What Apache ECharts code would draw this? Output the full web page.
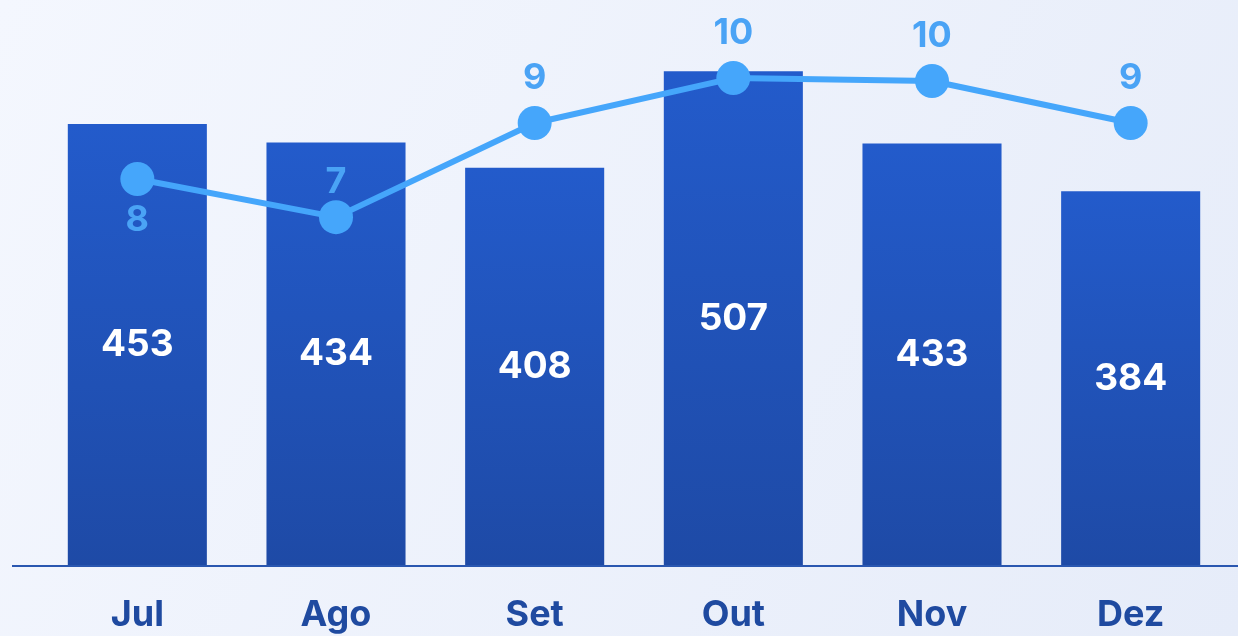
<!DOCTYPE html>
<html>
<head>
<meta charset="utf-8">
<script src="https://cdn.jsdelivr.net/npm/echarts@6/dist/echarts.min.js"></script>
<style>
  html, body { margin: 0; padding: 0; }
  #chart { width: 1238px; height: 636px; }
</style>
</head>
<body>
<div id="chart"></div>
<script>
// data
const months = ['Jul', 'Ago', 'Set', 'Out', 'Nov', 'Dez'];
const barValues = [453, 434, 408, 507, 433, 384];
const lineValues = [7.93, 7.15, 9.08, 10, 9.94, 9.08];

const fontFamily = 'Inter, "Noto Sans", sans-serif';
const color_line = '#45a6fb';

const chartDom = document.getElementById('chart');
const chart = echarts.init(chartDom);

let option = {
  animation: false,
  backgroundColor: new echarts.graphic.LinearGradient(0, 0, 1, 1, [
    {offset: 0, color: '#f4f7fe'},
    {offset: 1, color: '#e6ecf9'}
  ]),
  grid: { left: 38, right: 8, top: 0, bottom: 70 },
  graphic: [
    {
      type: 'line',
      shape: { x1: 12, y1: 566, x2: 1238, y2: 566 },
      style: { stroke: '#2a57b0', lineWidth: 2 },
      z: 10
    }
  ],
  xAxis: {
    type: 'category',
    data: months,
    axisTick: {show: false},
    axisLine: {show: false},
    axisLabel: {
      color: '#1f4aa0',
      fontSize: 36,
      fontWeight: 'bold',
      fontFamily: fontFamily,
      margin: 31
    }
  },
  yAxis: [
    { type: 'value', min: 0, max: 580, show: false },
    { type: 'value', min: 0, max: 11.6, show: false }
  ],
  series: [
    {
      name: 'Total',
      type: 'bar',
      data: barValues,
      barWidth: '70%',
      itemStyle: {
        color: new echarts.graphic.LinearGradient(0, 0, 0, 1, [
          {offset: 0, color: '#235bcb'},
          {offset: 1, color: '#1e4aa6'}
        ])
      },
      label: {
        show: true,
        position: 'inside',
        color: '#fff',
        fontSize: 37,
        fontWeight: 'bold',
        fontFamily: fontFamily
      }
    },
    {
      name: 'Media',
      type: 'line',
      yAxisIndex: 1,
      data: lineValues.map(function (v, i) {
        // first label sits under its point, second a bit closer
        if (i === 0) {
          return { value: v, label: { position: 'bottom', distance: 6 } };
        }
        if (i === 1) {
          return { value: v, label: { distance: 0 } };
        }
        return v;
      }),
      symbol: 'circle',
      symbolSize: 34,
      lineStyle: { color: color_line, width: 6 },
      itemStyle: { color: color_line },
      z: 5,
      label: {
        show: true,
        position: 'top',
        distance: 10,
        color: '#4aa3f5',
        fontSize: 36,
        fontWeight: 'bold',
        fontFamily: fontFamily,
        formatter: function (d) {
          return Math.round(d.value);
        }
      }
    }
  ]
};

chart.setOption(option);
</script>
</body>
</html>
